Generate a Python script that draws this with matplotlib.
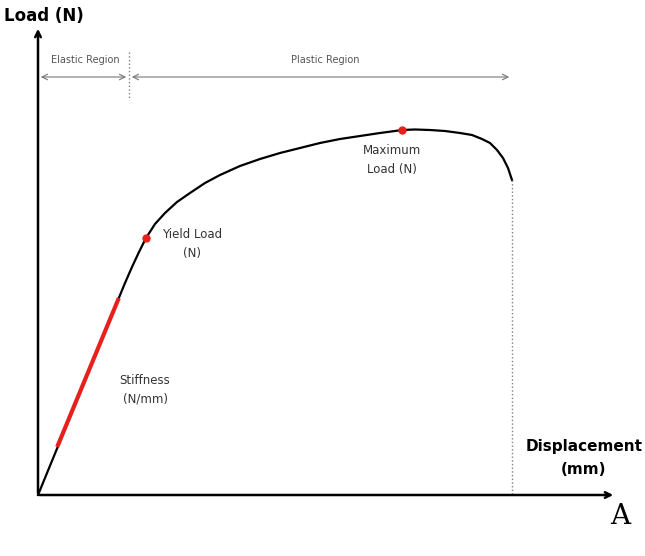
import matplotlib
matplotlib.use("Agg")
import matplotlib.pyplot as plt

# schematic curve points (pixel-like coordinates, y downward)
curve_x = [38,118,125,132,139,146,155,165,177,190,205,220,240,260,280,300,320,340,360,380,395,402,415,430,445,460,472,482,490,497,503,508,512]
curve_y = [495,300,283,267,252,238,224,213,202,193,183,175,166,159,153,148,143,139,136,133,131,130,129.5,130,131,133,135,139,143,150,158,168,180]
stiff_x = [58,118]
stiff_y = [445,300]
yield_pt = (146,238)
max_pt = (402,130)

fig = plt.figure(figsize=(6.45,5.56), dpi=100)
ax = fig.add_axes([0,0,1,1])
ax.set_xlim(0,645); ax.set_ylim(556,0); ax.axis('off')

ax.annotate('', xy=(616,495), xytext=(37,495), arrowprops=dict(arrowstyle='->', lw=1.8, color='black'))
ax.annotate('', xy=(38,26), xytext=(38,496), arrowprops=dict(arrowstyle='->', lw=1.8, color='black'))
ax.plot(curve_x, curve_y, color='black', lw=1.6, solid_joinstyle='round')
ax.plot(stiff_x, stiff_y, color='#e8201c', lw=3)
ax.plot(*yield_pt, 'o', color='#e8201c', ms=5)
ax.plot(*max_pt, 'o', color='#e8201c', ms=5)
ax.plot([512,512],[180,495], ls=':', color='gray', lw=1)
ax.plot([129,129],[52,100], ls=':', color='gray', lw=1)
g = '#777777'
ax.annotate('', xy=(38,77), xytext=(129,77), arrowprops=dict(arrowstyle='<->', lw=0.8, color=g))
ax.annotate('', xy=(129,77), xytext=(512,77), arrowprops=dict(arrowstyle='<->', lw=0.8, color=g))
ax.text(85,60,'Elastic Region', fontsize=7, color='#555555', ha='center', va='center')
ax.text(325,60,'Plastic Region', fontsize=7, color='#555555', ha='center', va='center')
ax.text(392,160,'Maximum\nLoad (N)', fontsize=8.5, color='#333333', ha='center', va='center', linespacing=1.5)
ax.text(192,244,'Yield Load\n(N)', fontsize=8.5, color='#333333', ha='center', va='center', linespacing=1.5)
ax.text(145,390,'Stiffness\n(N/mm)', fontsize=8.5, color='#333333', ha='center', va='center', linespacing=1.5)
ax.text(4,16,'Load (N)', fontsize=12, fontweight='bold', ha='left', va='center')
ax.text(584,458,'Displacement\n(mm)', fontsize=11, fontweight='bold', ha='center', va='center', linespacing=1.6)
ax.text(620,517,'A', fontsize=20, family='DejaVu Serif', ha='center', va='center')
fig.savefig('out.png', dpi=100)
